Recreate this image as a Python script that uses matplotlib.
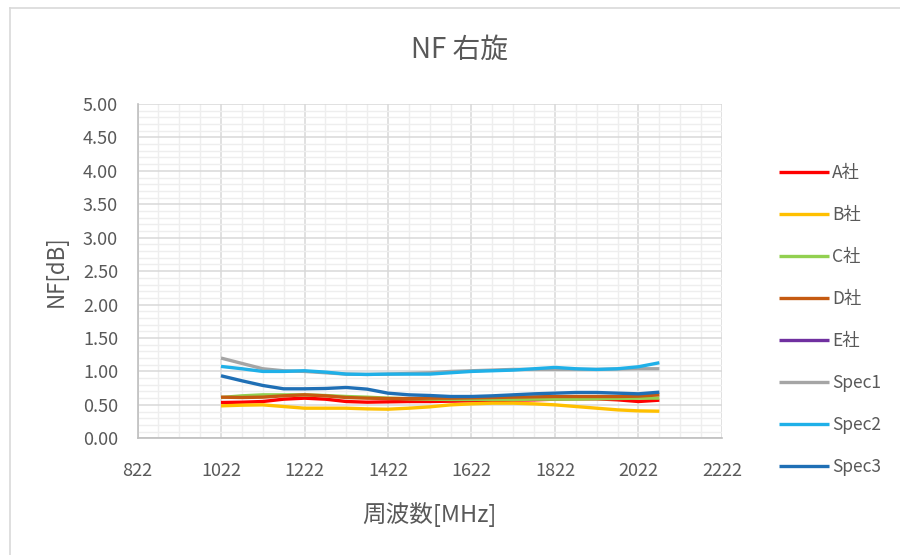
import numpy as np
import matplotlib
matplotlib.use("Agg")
import matplotlib.pyplot as plt
from matplotlib.lines import Line2D

plt.rcParams['font.family'] = ['Noto Sans CJK JP', 'DejaVu Sans']

# Frequency points [MHz]
freq = [1022, 1072, 1122, 1172, 1222, 1272, 1322, 1372, 1422, 1472, 1522,
        1572, 1622, 1672, 1722, 1772, 1822, 1872, 1922, 1972, 2022, 2072]

# Noise figure [dB] per maker / spec
nf_a = [0.535, 0.54, 0.55, 0.585, 0.60, 0.585, 0.55, 0.54, 0.545, 0.55, 0.55,
        0.555, 0.56, 0.565, 0.57, 0.575, 0.585, 0.59, 0.59, 0.575, 0.55, 0.57]
nf_b = [0.485, 0.495, 0.50, 0.475, 0.45, 0.45, 0.45, 0.44, 0.435, 0.45, 0.47,
        0.50, 0.515, 0.525, 0.525, 0.515, 0.50, 0.475, 0.45, 0.425, 0.41, 0.405]
nf_c = [0.61, 0.635, 0.65, 0.65, 0.65, 0.64, 0.625, 0.615, 0.60, 0.59, 0.585,
        0.58, 0.58, 0.58, 0.58, 0.585, 0.585, 0.585, 0.59, 0.595, 0.60, 0.60]
nf_d = [0.615, 0.61, 0.615, 0.635, 0.65, 0.635, 0.61, 0.60, 0.595, 0.595, 0.60,
        0.60, 0.605, 0.61, 0.615, 0.62, 0.625, 0.625, 0.625, 0.625, 0.63, 0.65]
nf_e = []
spec1 = [1.20, 1.12, 1.04, 1.01, 1.00, 0.98, 0.96, 0.955, 0.96, 0.97, 0.98,
         1.00, 1.01, 1.02, 1.03, 1.03, 1.03, 1.03, 1.03, 1.035, 1.04, 1.04]
spec2 = [1.075, 1.04, 1.00, 1.00, 1.01, 0.99, 0.96, 0.955, 0.96, 0.96, 0.96,
         0.98, 1.00, 1.01, 1.02, 1.04, 1.06, 1.04, 1.03, 1.04, 1.07, 1.13]
spec3 = [0.935, 0.86, 0.79, 0.74, 0.74, 0.745, 0.76, 0.735, 0.675, 0.65, 0.64,
         0.625, 0.625, 0.635, 0.65, 0.665, 0.675, 0.685, 0.685, 0.675, 0.665, 0.69]

labels = ["A社", "B社", "C社", "D社", "E社", "Spec1", "Spec2", "Spec3"]
series = [nf_a, nf_b, nf_c, nf_d, nf_e, spec1, spec2, spec3]
colors = ["#ff0000", "#ffc000", "#92d050", "#c55a11", "#7030a0",
          "#a5a5a5", "#1fb0e8", "#1f6fb5"]

x_ticks = [822, 1022, 1222, 1422, 1622, 1822, 2022, 2222]
y_ticks = [0.0, 0.5, 1.0, 1.5, 2.0, 2.5, 3.0, 3.5, 4.0, 4.5, 5.0]

text_color = "#595959"

fig = plt.figure(figsize=(9, 5.55), dpi=100)
ax = fig.add_axes([0.1528, 0.2103, 0.6494, 0.6023])

# chart frame
fig.add_artist(Line2D([10 / 900, 1.0], [1 - 8 / 555, 1 - 8 / 555],
                      transform=fig.transFigure, color="#d9d9d9", lw=1.2))
fig.add_artist(Line2D([10 / 900, 10 / 900], [0.0, 1 - 8 / 555],
                      transform=fig.transFigure, color="#d9d9d9", lw=1.2))

handles = []
for vals, lab, col in zip(series, labels, colors):
    h, = ax.plot(freq[:len(vals)], vals, color=col, lw=2.4, label=lab,
                 solid_capstyle="butt", zorder=3)
    handles.append(h)

ax.set_xlim(822, 2222)
ax.set_ylim(0, 5)
ax.set_xticks(x_ticks)
ax.set_yticks(y_ticks)
ax.set_yticklabels([f"{v:.2f}" for v in y_ticks])
ax.set_xticks(np.arange(822, 2223, 50), minor=True)
ax.set_yticks(np.arange(0, 5.01, 0.1), minor=True)

ax.grid(which="minor", color="#eeeeee", lw=1.0, zorder=0)
ax.grid(which="major", color="#d9d9d9", lw=1.1, zorder=1)
ax.set_axisbelow(True)

for side in ["top", "right"]:
    ax.spines[side].set_visible(False)
for side in ["left", "bottom"]:
    ax.spines[side].set_color("#bfbfbf")
    ax.spines[side].set_linewidth(1.2)

ax.tick_params(which="both", length=0, colors=text_color, labelsize=13)
ax.tick_params(axis="x", pad=17)
ax.tick_params(axis="y", pad=14)

ax.set_xlabel("周波数[MHz]", fontsize=17, color=text_color, labelpad=16)
ax.set_ylabel("NF[dB]", fontsize=16, color=text_color, labelpad=11)
fig.text(0.511, 0.91, "NF 右旋", ha="center", va="center",
         fontsize=20, color=text_color)

leg = fig.legend(handles=handles, labels=labels, loc="upper left",
                 bbox_to_anchor=(0.858, 0.717), frameon=False,
                 fontsize=12.5, handlelength=2.9, handletextpad=0.15,
                 labelspacing=1.38, borderaxespad=0)
for t in leg.get_texts():
    t.set_color(text_color)

fig.savefig("out.png", dpi=100, facecolor="white")
